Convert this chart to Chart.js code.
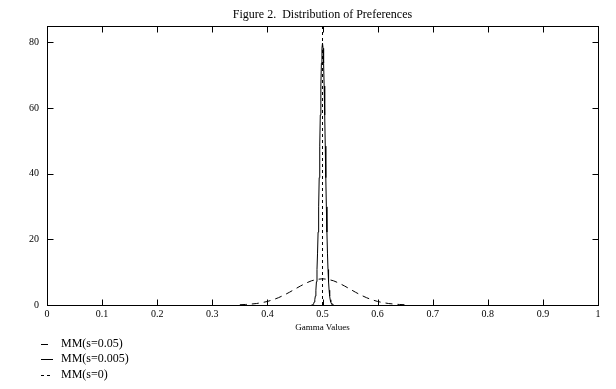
<!DOCTYPE html>
<html>
<head>
<meta charset="utf-8">
<script src="https://cdn.jsdelivr.net/npm/chart.js@4/dist/chart.umd.min.js"></script>
<style>
  html, body { margin: 0; padding: 0; background: #ffffff; }
  #wrap { width: 616px; height: 389px; }
</style>
</head>
<body>
<div id="wrap"><canvas id="c" width="616" height="389"></canvas></div>
<script>
// ---- data ----
const chartTitle = 'Figure 2.  Distribution of Preferences';
const xAxisTitle = 'Gamma Values';
const seriesLabels = ['MM(s=0.05)', 'MM(s=0.005)', 'MM(s=0)'];

// MM(s=0.05): wide curve
const wideX = [0.35, 0.36, 0.37, 0.38, 0.39,
               0.40, 0.41, 0.42, 0.43, 0.44, 0.45, 0.46, 0.47, 0.48, 0.49,
               0.50, 0.51, 0.52, 0.53, 0.54, 0.55, 0.56, 0.57, 0.58, 0.59,
               0.60, 0.61, 0.62, 0.63, 0.64, 0.65];
const wideY = [0.09, 0.16, 0.27, 0.45, 0.71,
               1.08, 1.58, 2.22, 2.99, 3.88, 4.84, 5.79, 6.67, 7.37, 7.82,
               7.98, 7.82, 7.37, 6.67, 5.79, 4.84, 3.88, 2.99, 2.22, 1.58,
               1.08, 0.71, 0.45, 0.27, 0.16, 0.09];

// MM(s=0.005): narrow solid peak
const narrowX = [0.480, 0.481, 0.482, 0.483, 0.484, 0.485, 0.486, 0.487, 0.488, 0.489,
                 0.490, 0.491, 0.492, 0.493, 0.494, 0.495, 0.496, 0.497, 0.498, 0.499,
                 0.500, 0.501, 0.502, 0.503, 0.504, 0.505, 0.506, 0.507, 0.508, 0.509,
                 0.510, 0.511, 0.512, 0.513, 0.514, 0.515, 0.516, 0.517, 0.518, 0.519, 0.520];
const narrowY = [0.0, 0.0, 0.1, 0.2, 0.5, 0.9, 1.6, 2.7, 4.5, 7.1,
                 10.8, 15.8, 22.2, 29.9, 38.8, 48.4, 57.9, 66.7, 73.7, 78.2,
                 79.8, 78.2, 73.7, 66.7, 57.9, 48.4, 38.8, 29.9, 22.2, 15.8,
                 10.8, 7.1, 4.5, 2.7, 1.6, 0.9, 0.5, 0.2, 0.1, 0.0, 0.0];

// MM(s=0): point mass drawn as a vertical spike
const spikeX = [0.5, 0.5];
const spikeY = [0, 85];

const xMin = 0, xMax = 1, xStep = 0.1;
const yMin = 0, yMax = 85, yStep = 20;

function pts(xs, ys) { return xs.map((x, i) => ({ x: x, y: ys[i] })); }

const serif = "'Liberation Serif', 'DejaVu Serif', serif";

const frameTicks = {
  id: 'frameTicks',
  afterDraw(chart) {
    const { ctx, chartArea: a, scales } = chart;
    const L = Math.round(a.left) + 0.5, R = Math.round(a.right) + 0.5;
    const T = Math.round(a.top) + 0.5, B = Math.round(a.bottom) + 0.5;
    ctx.save();
    ctx.strokeStyle = '#000';
    ctx.lineWidth = 1;
    ctx.setLineDash([]);
    ctx.strokeRect(L, T, R - L, B - T);
    const len = 6;
    ctx.beginPath();
    scales.x.ticks.forEach(t => {
      const px = Math.round(scales.x.getPixelForValue(t.value)) + 0.5;
      ctx.moveTo(px, B); ctx.lineTo(px, B - len);
      ctx.moveTo(px, T); ctx.lineTo(px, T + len);
    });
    scales.y.ticks.forEach(t => {
      const py = Math.round(scales.y.getPixelForValue(t.value)) + 0.5;
      ctx.moveTo(L, py); ctx.lineTo(L + len, py);
      ctx.moveTo(R, py); ctx.lineTo(R - len, py);
    });
    ctx.stroke();

    // legend (one entry per row, bottom left)
    const rows = [344, 359, 375];
    const sampleEnd = [48, 53, 53];
    const sampleStart = 41;
    ctx.font = '12px ' + serif;
    ctx.fillStyle = '#000';
    ctx.textBaseline = 'middle';
    ctx.textAlign = 'left';
    chart.data.datasets.forEach((ds, i) => {
      const y = rows[i] + 0.5;
      ctx.beginPath();
      ctx.setLineDash(ds.borderDash || []);
      ctx.moveTo(sampleStart, y); ctx.lineTo(sampleEnd[i], y);
      ctx.stroke();
      ctx.setLineDash([]);
      ctx.fillText(ds.label, 61, rows[i]);
    });
    ctx.restore();
  }
};

new Chart(document.getElementById('c'), {
  type: 'scatter',
  data: {
    datasets: [
      { label: seriesLabels[0], data: pts(wideX, wideY), showLine: true,
        borderColor: '#000', borderWidth: 1, borderDash: [7, 5], pointRadius: 0, tension: 0 },
      { label: seriesLabels[1], data: pts(narrowX, narrowY), showLine: true,
        borderColor: '#000', borderWidth: 1, borderDash: [], pointRadius: 0, tension: 0 },
      { label: seriesLabels[2], data: pts(spikeX, spikeY), showLine: true,
        borderColor: '#000', borderWidth: 1, borderDash: [3, 3], pointRadius: 0, tension: 0 }
    ]
  },
  options: {
    responsive: false,
    animation: false,
    devicePixelRatio: 1,
    layout: { padding: { left: 0, right: 18, top: 0, bottom: 54 } },
    plugins: {
      legend: { display: false },
      tooltip: { enabled: false },
      title: {
        display: true, text: chartTitle, color: '#000', fullSize: false,
        font: { family: serif, size: 12, weight: 'normal' },
        padding: { top: 8, bottom: 3.6 }
      }
    },
    scales: {
      x: {
        type: 'linear', min: xMin, max: xMax,
        grid: { display: false, drawTicks: false },
        border: { display: false },
        ticks: { stepSize: xStep, color: '#000', padding: 3, maxRotation: 0,
                 font: { family: serif, size: 10 },
                 callback: v => String(Math.round(v * 10) / 10) },
        title: { display: true, text: xAxisTitle, color: '#000',
                 font: { family: serif, size: 9 }, padding: { top: 0, bottom: 1.6 } },
        afterFit(s) { s.height = 30; }
      },
      y: {
        type: 'linear', min: yMin, max: yMax,
        grid: { display: false, drawTicks: false },
        border: { display: false },
        ticks: { stepSize: yStep, color: '#000', padding: 8,
                 font: { family: serif, size: 10 } },
        afterBuildTicks(s) { s.ticks = s.ticks.filter(t => t.value % yStep === 0); },
        afterFit(s) { s.width = 47; }
      }
    }
  },
  plugins: [frameTicks]
});
</script>
</body>
</html>
